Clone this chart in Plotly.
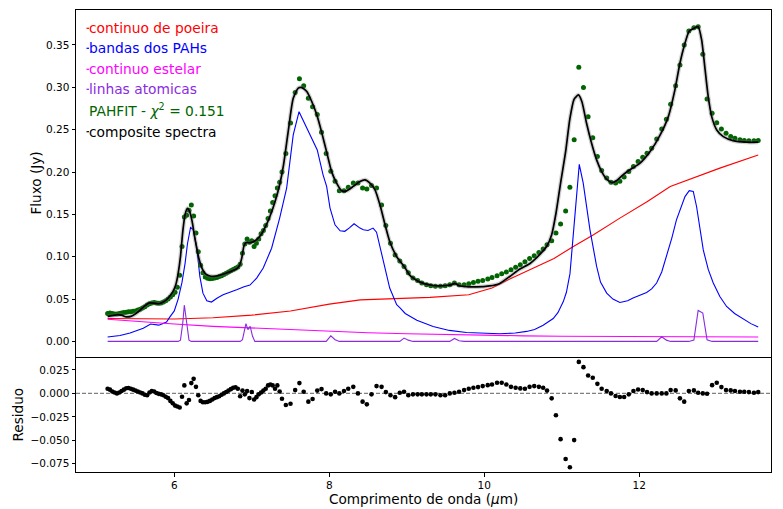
import plotly.graph_objects as go

# ---------------- data ----------------
wl_sl2 = [5.14, 5.17, 5.20, 5.23, 5.26, 5.29, 5.32, 5.35, 5.38, 5.41,
          5.44, 5.47, 5.50, 5.53, 5.56, 5.59, 5.62, 5.65, 5.68, 5.71,
          5.74, 5.77, 5.80, 5.83, 5.86, 5.89, 5.92, 5.95, 5.98, 6.01,
          6.04, 6.07, 6.10, 6.13, 6.16, 6.19, 6.22, 6.25, 6.28, 6.31,
          6.34, 6.37, 6.40, 6.43, 6.46, 6.49, 6.52, 6.55, 6.58, 6.61,
          6.64, 6.67, 6.70, 6.73, 6.76, 6.79, 6.82, 6.85, 6.88, 6.91,
          6.94, 6.97, 7.00, 7.03, 7.06, 7.09, 7.12, 7.15, 7.18, 7.21,
          7.24, 7.27, 7.30, 7.33, 7.36]
flux_sl2 = [0.033, 0.0335, 0.033, 0.0325, 0.0325, 0.033, 0.0335, 0.034, 0.0345, 0.035,
            0.035, 0.0355, 0.036, 0.037, 0.038, 0.0395, 0.041, 0.043, 0.0445, 0.0455,
            0.046, 0.0455, 0.045, 0.0455, 0.0465, 0.048, 0.050, 0.0525, 0.055, 0.058,
            0.064, 0.078, 0.112, 0.147, 0.149, 0.155, 0.161, 0.148, 0.128, 0.106,
            0.090, 0.081, 0.076, 0.0745, 0.074, 0.0742, 0.0748, 0.0755, 0.0765, 0.0775,
            0.079, 0.0805, 0.082, 0.0835, 0.085, 0.0865, 0.088, 0.091, 0.104, 0.115,
            0.121, 0.117, 0.119, 0.112, 0.116, 0.121, 0.127, 0.131, 0.137, 0.145,
            0.154, 0.164, 0.172, 0.181, 0.188]
resid_sl2 = [0.005, 0.004, 0.002, 0.001, 0.000, 0.001, 0.0025, 0.004, 0.0055, 0.0058,
             0.005, 0.004, 0.003, 0.002, 0.001, 0.000, -0.0015, -0.002, 0.001, 0.0025,
             0.002, 0.0005, -0.0005, -0.001, -0.002, -0.0035, -0.005, -0.008, -0.0105, -0.013,
             -0.014, -0.015, -0.0035, 0.0085, -0.0106, -0.007, 0.011, 0.0155, 0.007, -0.002,
             -0.008, -0.0095, -0.0095, -0.009, -0.008, -0.0065, -0.005, -0.004, -0.003, -0.0015,
             0.000, 0.0015, 0.003, 0.0045, 0.006, 0.0065, 0.005, -0.003, 0.003, -0.001,
             0.0025, -0.005, 0.0015, -0.0065, -0.004, -0.001, 0.001, 0.003, 0.005, 0.0085,
             0.0095, 0.0085, 0.005, 0.0085, 0.002]

wl_sl1 = [7.39, 7.44, 7.50, 7.56, 7.615, 7.67, 7.73, 7.785, 7.845, 7.90,
          7.96, 8.02, 8.075, 8.13, 8.19, 8.245, 8.31, 8.37, 8.43, 8.485,
          8.545, 8.61, 8.675, 8.73, 8.79, 8.85, 8.91, 8.965, 9.02, 9.08,
          9.14, 9.195, 9.255, 9.31, 9.37, 9.435, 9.495, 9.555, 9.615, 9.675,
          9.74, 9.80, 9.86, 9.92, 9.98, 10.045, 10.10, 10.165, 10.225, 10.285,
          10.345, 10.405, 10.465, 10.525, 10.585, 10.645, 10.705, 10.76, 10.81, 10.87,
          10.925, 10.985, 11.05, 11.105, 11.16, 11.22, 11.28, 11.34, 11.40, 11.46,
          11.515, 11.58, 11.635, 11.695, 11.75, 11.805, 11.865, 11.925, 11.985, 12.045,
          12.10, 12.16, 12.225, 12.29, 12.35, 12.405, 12.47, 12.525, 12.58, 12.64,
          12.705, 12.76, 12.82, 12.875, 12.94, 13.0, 13.06, 13.12, 13.18, 13.235,
          13.30, 13.355, 13.415, 13.48, 13.535]
flux_sl1 = [0.200, 0.222, 0.258, 0.294, 0.310, 0.302, 0.287, 0.277, 0.268, 0.247,
            0.222, 0.201, 0.189, 0.178, 0.178, 0.182, 0.187, 0.187, 0.181, 0.180,
            0.184, 0.181, 0.161, 0.137, 0.116, 0.102, 0.095, 0.0885, 0.081, 0.075,
            0.072, 0.069, 0.067, 0.0657, 0.065, 0.065, 0.0657, 0.067, 0.069, 0.067,
            0.067, 0.068, 0.0696, 0.071, 0.072, 0.0736, 0.0755, 0.0775, 0.080, 0.082,
            0.0846, 0.0877, 0.0905, 0.094, 0.098, 0.101, 0.105, 0.109, 0.114, 0.119,
            0.128, 0.1385, 0.154, 0.182, 0.238, 0.3237, 0.2997, 0.2654, 0.2405, 0.2183,
            0.2017, 0.1928, 0.188, 0.1869, 0.1892, 0.194, 0.2005, 0.2064, 0.2123, 0.2175,
            0.2222, 0.2281, 0.2391, 0.2509, 0.2623, 0.280, 0.302, 0.3264, 0.350, 0.3665,
            0.3704, 0.3716, 0.339, 0.2863, 0.2694, 0.2583, 0.2509, 0.2458, 0.2418, 0.240,
            0.238, 0.2371, 0.2368, 0.2368, 0.2371]
resid_sl1 = [-0.0057, -0.0124, -0.011, 0.0035, 0.011, 0.0018, -0.0088, -0.006, 0.003, 0.0046,
             0.0, -0.001, 0.0018, 0.0, 0.0025, 0.005, 0.007, 0.0, -0.0088, -0.0117,
             -0.001, 0.0078, 0.007, 0.0014, -0.002, -0.004, 0.0007, 0.0018, -0.002, -0.001,
             -0.001, -0.001, -0.001, -0.001, -0.001, -0.002, -0.002, 0.0, 0.0007, 0.0018,
             0.0035, 0.005, 0.006, 0.0067, 0.0078, 0.0088, 0.0095, 0.0113, 0.0113, 0.0095,
             0.007, 0.006, 0.0053, 0.005, 0.007, 0.0078, 0.007, 0.006, 0.003, -0.0053,
             -0.0233, -0.0488, -0.070, -0.0788, -0.0498, 0.0336, 0.028, 0.0191, 0.0166, 0.0102,
             0.0049, 0.0025, 0.0, -0.0028, -0.0039, -0.0039, -0.001, 0.0025, 0.0042, 0.0035,
             0.0014, 0.0, 0.0, 0.0, 0.0, 0.0035, 0.0032, -0.0053, -0.0088, 0.0025,
             0.0032, 0.0007, 0.0, -0.0003, 0.0088, 0.0113, 0.0067, 0.0035, 0.0032, 0.0025,
             0.0018, 0.0018, 0.0014, 0.0007, 0.0014]

wavelength = wl_sl2 + wl_sl1
flux = flux_sl2 + flux_sl1
residual = resid_sl2 + resid_sl1

# composite model (black line)
comp_wl = [5.14, 5.20, 5.26, 5.32, 5.38, 5.44, 5.50, 5.56, 5.62, 5.68,
           5.74, 5.80, 5.86, 5.92, 5.98, 6.02, 6.05, 6.08, 6.11, 6.14,
           6.17, 6.20, 6.23, 6.26, 6.29, 6.32, 6.36, 6.40, 6.45, 6.50,
           6.56, 6.62, 6.68, 6.74, 6.80, 6.84, 6.87, 6.90, 6.93, 6.96,
           7.00, 7.06, 7.12, 7.18, 7.24, 7.30, 7.36, 7.41, 7.47, 7.535,
           7.60, 7.645, 7.71, 7.775, 7.84, 7.90, 7.965, 8.03, 8.095, 8.16,
           8.225, 8.31, 8.395, 8.46, 8.525, 8.59, 8.655, 8.72, 8.78, 8.87,
           8.91, 8.98, 9.04, 9.17, 9.34, 9.515, 9.58, 9.62, 9.67, 9.73,
           9.90, 10.07, 10.20, 10.33, 10.46, 10.59, 10.72, 10.81, 10.87, 10.925,
           10.985, 11.05, 11.105, 11.16, 11.215, 11.26, 11.32, 11.385, 11.45, 11.515,
           11.58, 11.645, 11.71, 11.79, 11.88, 12.01, 12.14, 12.27, 12.375, 12.46,
           12.525, 12.59, 12.645, 12.705, 12.76, 12.805, 12.85, 12.89, 12.935, 13.00,
           13.085, 13.21, 13.385, 13.535]
comp_flux = [0.0295, 0.0305, 0.0315, 0.031, 0.029, 0.0295, 0.0325, 0.037, 0.042, 0.0455,
             0.0452, 0.0445, 0.0465, 0.051, 0.0585, 0.067, 0.080, 0.100, 0.130, 0.150,
             0.157, 0.153, 0.142, 0.125, 0.110, 0.097, 0.086, 0.080, 0.0775, 0.0768,
             0.0775, 0.079, 0.081, 0.083, 0.0855, 0.0895, 0.098, 0.113, 0.117, 0.1165,
             0.117, 0.120, 0.126, 0.136, 0.149, 0.165, 0.185, 0.2085, 0.2477, 0.287,
             0.299, 0.2997, 0.295, 0.283, 0.2674, 0.2477, 0.2241, 0.2005, 0.1869, 0.1778,
             0.1778, 0.183, 0.1888, 0.1908, 0.1869, 0.179, 0.161, 0.1377, 0.118, 0.100,
             0.095, 0.0866, 0.078, 0.070, 0.066, 0.066, 0.067, 0.0685, 0.066, 0.065,
             0.0643, 0.0655, 0.0685, 0.0767, 0.0854, 0.092, 0.103, 0.113, 0.126, 0.151,
             0.187, 0.224, 0.263, 0.286, 0.291, 0.283, 0.2576, 0.234, 0.2143, 0.2005,
             0.1916, 0.1876, 0.190, 0.1966, 0.2026, 0.2104, 0.2241, 0.2438, 0.2654, 0.297,
             0.3284, 0.352, 0.3665, 0.3697, 0.3716, 0.356, 0.3205, 0.289, 0.2654, 0.2497,
             0.2418, 0.2371, 0.2352, 0.2352]

# dust continuum (red)
dust_wl = [5.14, 5.5, 6.0, 6.5, 7.0, 7.5, 8.0, 8.4, 8.9, 9.3, 9.8, 10.1, 10.33,
           10.63, 10.9, 11.15, 11.41, 11.75, 12.1, 12.4, 12.7, 13.04, 13.535]
dust_flux = [0.027, 0.0268, 0.0265, 0.028, 0.031, 0.036, 0.044, 0.049, 0.051, 0.052,
             0.055, 0.063, 0.0736, 0.086, 0.098, 0.112, 0.126, 0.1456, 0.165, 0.183,
             0.193, 0.2046, 0.220]

# PAH bands (blue)
pah_wl = [5.14, 5.30, 5.43, 5.52, 5.60, 5.695, 5.75, 5.80, 5.84, 5.90,
          5.944, 6.00, 6.05, 6.10, 6.14, 6.17, 6.21, 6.245, 6.29, 6.33,
          6.37, 6.42, 6.48, 6.55, 6.63, 6.72, 6.805, 6.90, 6.977, 7.063,
          7.148, 7.256, 7.36, 7.45, 7.535, 7.61, 7.674, 7.734, 7.80, 7.845,
          7.92, 7.966, 8.01, 8.074, 8.14, 8.20, 8.26, 8.32, 8.396, 8.44,
          8.50, 8.565, 8.61, 8.654, 8.70, 8.78, 8.87, 8.91, 8.98, 9.05,
          9.13, 9.34, 9.55, 9.77, 10.0, 10.2, 10.4, 10.547, 10.65, 10.76,
          10.89, 10.95, 11.02, 11.06, 11.106, 11.17, 11.226, 11.277, 11.32, 11.364,
          11.45, 11.50, 11.58, 11.66, 11.75, 11.85, 11.92, 12.0, 12.095, 12.16,
          12.224, 12.29, 12.353, 12.42, 12.48, 12.54, 12.59, 12.645, 12.697, 12.74,
          12.78, 12.826, 12.89, 12.955, 13.04, 13.127, 13.23, 13.34, 13.44, 13.535]
pah_flux = [0.0052, 0.007, 0.010, 0.0125, 0.0155, 0.0205, 0.020, 0.0192, 0.0205, 0.023,
            0.029, 0.036, 0.050, 0.070, 0.0925, 0.115, 0.1345, 0.132, 0.111, 0.0767,
            0.057, 0.048, 0.0465, 0.051, 0.055, 0.0585, 0.061, 0.0645, 0.0665, 0.0748,
            0.0866, 0.110, 0.1456, 0.181, 0.2438, 0.2713, 0.2595, 0.2477, 0.236, 0.2261,
            0.1967, 0.183, 0.1574, 0.1377, 0.1306, 0.130, 0.134, 0.1389, 0.1338, 0.1318,
            0.131, 0.1338, 0.129, 0.112, 0.0935, 0.063, 0.0433, 0.040, 0.033, 0.029,
            0.025, 0.0177, 0.013, 0.0106, 0.0095, 0.009, 0.010, 0.0118, 0.014, 0.019,
            0.027, 0.034, 0.047, 0.058, 0.080, 0.1475, 0.209, 0.1869, 0.160, 0.1318,
            0.0885, 0.070, 0.057, 0.050, 0.046, 0.048, 0.0512, 0.054, 0.0578, 0.062,
            0.0689, 0.082, 0.100, 0.122, 0.1436, 0.160, 0.171, 0.178, 0.177, 0.159,
            0.135, 0.108, 0.085, 0.0689, 0.053, 0.0413, 0.033, 0.0264, 0.021, 0.017]

# stellar continuum (magenta)
star_wl = [5.14, 5.5, 6.0, 6.5, 7.0, 7.5, 8.0, 8.5, 9.0, 9.5, 10.0, 10.5, 11.0,
           11.5, 12.0, 12.5, 13.0, 13.535]
star_flux = [0.0262, 0.0235, 0.0205, 0.0178, 0.0158, 0.0138, 0.0122, 0.0103, 0.009,
             0.008, 0.0072, 0.0066, 0.0061, 0.0058, 0.0056, 0.0054, 0.0053, 0.0052]

# atomic lines (purple)
lines_wl = [5.14, 6.05, 6.08, 6.11, 6.13, 6.16, 6.19, 6.22, 6.85, 6.88,
            6.91, 6.925, 6.95, 6.98, 7.01, 7.04, 7.96, 8.02, 8.075, 8.13,
            8.91, 8.965, 9.02, 9.08, 9.555, 9.615, 9.675, 9.74, 12.225, 12.29,
            12.35, 12.405, 12.64, 12.705, 12.76, 12.82, 12.875, 12.94, 13.535]
lines_flux = [0.0, 0.0, 0.0015, 0.022, 0.043, 0.020, 0.0015, 0.0, 0.0, 0.002,
              0.018, 0.021, 0.014, 0.0177, 0.006, 0.0, 0.0, 0.0065, 0.002, 0.0,
              0.0, 0.004, 0.0015, 0.0, 0.0, 0.0035, 0.0008, 0.0, 0.0, 0.0055,
              0.0015, 0.0, 0.0, 0.0015, 0.0366, 0.0335, 0.002, 0.0, 0.0]

y_ticks_top = [0.00, 0.05, 0.10, 0.15, 0.20, 0.25, 0.30, 0.35]
y_ticks_res = [0.025, 0.0, -0.025, -0.050, -0.075]
x_ticks = [6, 8, 10, 12]

legend_labels = ["continuo de poeira", "bandas dos PAHs", "continuo estelar",
                 "linhas atomicas", "PAHFIT - <i>χ</i><sup>2</sup> = 0.151",
                 "composite spectra"]

# ---------------- styling ----------------
RED, BLUE, MAG, PURP, GREEN, BLACK = "#ff0000", "#0000ff", "#ff00ff", "#8a2be2", "#006400", "#000000"
legend_colors = [RED, BLUE, MAG, PURP, GREEN, BLACK]
FONT = "DejaVu Sans"
W, H = 783, 509
ML, MR, MT, MB = 76, 12, 10, 37
PW, PH = W - ML - MR, H - MT - MB
split = 115 / PH
PANEL_JOIN = MT + PH - 115


def paper_x(px):
    return (px - ML) / PW


def paper_y(py):
    return 1 - (py - MT) / PH


fig = go.Figure()

fig.add_trace(go.Scatter(x=dust_wl, y=dust_flux, mode="lines",
                         line=dict(color=RED, width=1.1), xaxis="x", yaxis="y"))
fig.add_trace(go.Scatter(x=pah_wl, y=pah_flux, mode="lines",
                         line=dict(color=BLUE, width=1.1), xaxis="x", yaxis="y"))
fig.add_trace(go.Scatter(x=star_wl, y=star_flux, mode="lines",
                         line=dict(color=MAG, width=1.1), xaxis="x", yaxis="y"))
fig.add_trace(go.Scatter(x=lines_wl, y=lines_flux, mode="lines",
                         line=dict(color=PURP, width=1.1), xaxis="x", yaxis="y"))
fig.add_trace(go.Scatter(x=wavelength, y=flux, mode="markers",
                         marker=dict(color=GREEN, size=5, line=dict(width=0)),
                         xaxis="x", yaxis="y"))
fig.add_trace(go.Scatter(x=comp_wl, y=comp_flux, mode="lines",
                         line=dict(color="rgba(110,110,110,0.32)", width=4.2, shape="spline", smoothing=0.6),
                         xaxis="x", yaxis="y"))
fig.add_trace(go.Scatter(x=comp_wl, y=comp_flux, mode="lines",
                         line=dict(color=BLACK, width=1.7, shape="spline", smoothing=0.6),
                         xaxis="x", yaxis="y"))

fig.add_trace(go.Scatter(x=wavelength, y=residual, mode="markers",
                         marker=dict(color=BLACK, size=4.6, line=dict(width=0)),
                         xaxis="x2", yaxis="y2"))

axis_common = dict(showline=True, linecolor="black", linewidth=1, mirror=True,
                   showgrid=False, zeroline=False, ticks="outside", ticklen=3.5,
                   tickwidth=1, tickcolor="black",
                   tickfont=dict(family=FONT, size=10.5, color="black"))
axis_top_x = {k: v for k, v in axis_common.items() if k != "ticks"}
axis_bot_x = {k: v for k, v in axis_common.items() if k != "mirror"}

xr = [4.732, 13.70]
fig.update_layout(
    width=W, height=H,
    margin=dict(l=ML, r=MR, t=MT, b=MB),
    paper_bgcolor="white", plot_bgcolor="white",
    showlegend=False,
    xaxis=dict(domain=[0, 1], anchor="y", range=xr, showticklabels=False, ticks="",
               **axis_top_x),
    yaxis=dict(domain=[split, 1], anchor="x", range=[-0.0184, 0.3913],
               tickvals=y_ticks_top, tickformat=".2f", **axis_common),
    xaxis2=dict(domain=[0, 1], anchor="y2", range=xr, tickvals=x_ticks, mirror=False,
                **axis_bot_x),
    yaxis2=dict(domain=[0, split], anchor="x2", range=[-0.0838, 0.0388],
                tickvals=y_ticks_res, tickformat=".3f", **axis_common),
)

# dashed zero line in residual panel
fig.add_shape(type="line", xref="x2 domain", yref="y2", x0=0, x1=1, y0=0, y1=0,
              line=dict(color="gray", width=1.1, dash="4px,2px"), layer="below")

# axis titles
title_font = dict(family=FONT, size=13.6, color="black")
fig.add_annotation(text="Fluxo (Jy)", xref="paper", yref="paper",
                   x=paper_x(35), y=paper_y((MT + PANEL_JOIN) / 2), textangle=-90,
                   xanchor="center", yanchor="middle", showarrow=False, font=title_font)
fig.add_annotation(text="Residuo", xref="paper", yref="paper",
                   x=paper_x(17), y=paper_y((PANEL_JOIN + MT + PH) / 2), textangle=-90,
                   xanchor="center", yanchor="middle", showarrow=False, font=title_font)
fig.add_annotation(text="Comprimento de onda (<i>μ</i>m)", xref="paper", yref="paper",
                   x=paper_x((ML + W - MR) / 2), y=paper_y(499),
                   xanchor="center", yanchor="middle", showarrow=False, font=title_font)

# legend as coloured texts
rows = [28.3, 48.3, 69.3, 89.3, 110.0, 131.7]
for lab, col, py in zip(legend_labels, legend_colors, rows):
    fig.add_annotation(text=lab, xref="paper", yref="paper", x=paper_x(87.0), y=paper_y(py),
                       xanchor="left", yanchor="middle", showarrow=False,
                       font=dict(family=FONT, size=13.8, color=col))
    if col != GREEN:
        fig.add_shape(type="line", xref="paper", yref="paper",
                      x0=paper_x(86.5), x1=paper_x(89), y0=paper_y(py), y1=paper_y(py),
                      line=dict(color=col, width=1.2))

fig.write_html("out.html")
